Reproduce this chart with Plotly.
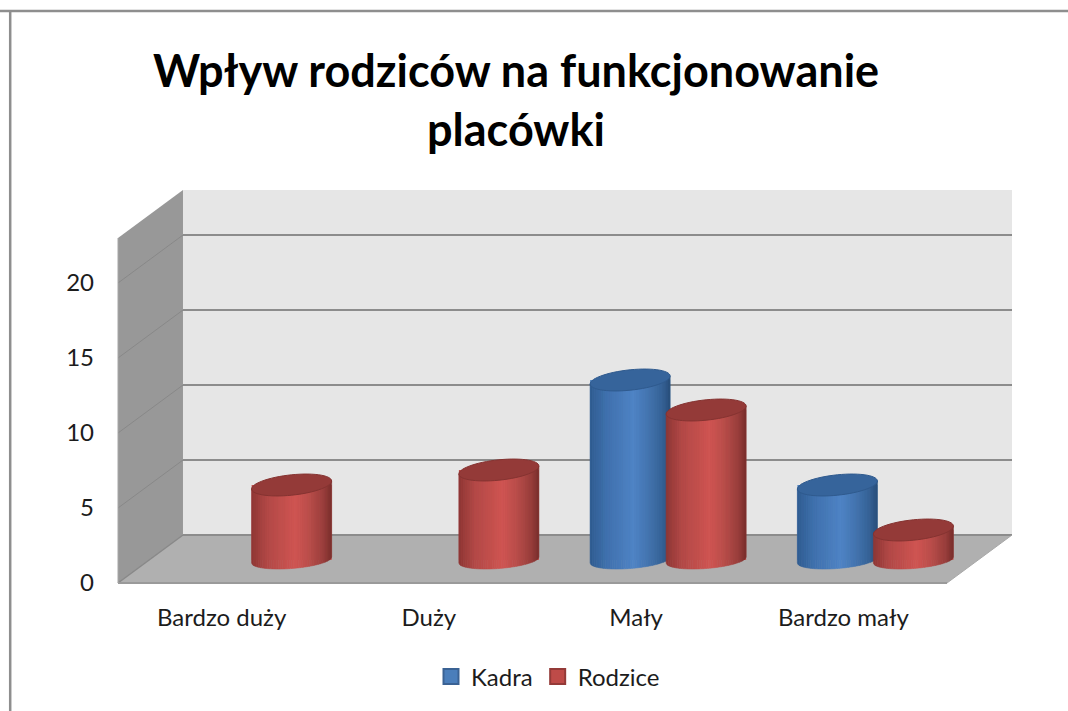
import math
import plotly.graph_objects as go

title_text = "Wpływ rodziców na funkcjonowanie<br>placówki"
categories = ["Bardzo duży", "Duży", "Mały", "Bardzo mały"]
kadra = [None, None, 12, 5]
rodzice = [5, 6, 10, 2]
value_ticks = [0, 5, 10, 15, 20]

W, H = 1068, 711
FONT = "Lato, Carlito, sans-serif"
PX_X = 207.25            # pixels per category
PX_Y = 15.0              # pixels per value unit
X0_PX, Y0_PX = 118, 583  # pixel of category edge / value 0 at front of the floor
xu = lambda px: px / PX_X
yu = lambda px: px / PX_Y
DX, DY = xu(65), yu(48)  # depth of the box
XL, XR = -0.5, 3.5
YTOP = 23.0
BASE = yu(23)            # cylinder base centre above value 0
A = xu(40)
TOP_B, TOP_K = yu(10.2), yu(4)
BOT_B, BOT_K = yu(8.5), yu(3)
STRIPS = 36


def path(points):
    return "M" + "L".join(f"{x:.4f},{y:.4f}" for x, y in points) + "Z"


def poly(points, fill, line=None, lw=0, layer="below"):
    return dict(type="path", xref="x", yref="y", path=path(points), fillcolor=fill,
                line=dict(color=line or fill, width=lw), layer=layer)


def seg(x0, y0, x1, y1, color, width):
    return dict(type="line", xref="x", yref="y", x0=x0, y0=y0, x1=x1, y1=y1,
                line=dict(color=color, width=width), layer="below")


def mix(c0, c1, t):
    return "#" + "".join(f"{round(a + (b - a) * t):02x}" for a, b in zip(c0, c1))


def shade(stops, t):
    for (t0, c0), (t1, c1) in zip(stops, stops[1:]):
        if t <= t1:
            return mix(c0, c1, (t - t0) / (t1 - t0))
    return mix(stops[-1][1], stops[-1][1], 0)


BLUE_STOPS = [(0, (0x2f, 0x5c, 0x90)), (0.2, (0x3f, 0x70, 0xac)), (0.55, (0x4f, 0x84, 0xc6)),
              (0.72, (0x44, 0x75, 0xb0)), (0.9, (0x36, 0x62, 0x96)), (1, (0x28, 0x4e, 0x7a))]
RED_STOPS = [(0, (0x8e, 0x36, 0x34)), (0.2, (0xb2, 0x49, 0x47)), (0.55, (0xd0, 0x55, 0x52)),
             (0.72, (0xba, 0x4e, 0x4b)), (0.9, (0x9a, 0x3e, 0x3c)), (1, (0x78, 0x2e, 0x2c))]


def cylinder(cx, value, stops, top_fill, top_line):
    shapes = []
    ytop = BASE + value
    for i in range(STRIPS):
        u0, u1 = -1 + 2 * i / STRIPS, -1 + 2 * (i + 1) / STRIPS
        pts = [(cx + A * u0, ytop + TOP_K * u0), (cx + A * u1, ytop + TOP_K * u1)]
        steps = 4
        for j in range(steps + 1):
            u = u1 + (u0 - u1) * j / steps
            pts.append((cx + A * u, BASE + BOT_K * u - BOT_B * math.sqrt(max(0, 1 - u * u))))
        col = shade(stops, (i + 0.5) / STRIPS)
        shapes.append(poly(pts, col, col, 0.6, "above"))
    ell = []
    for i in range(60):
        t = 2 * math.pi * i / 60
        ell.append((cx + A * math.cos(t), ytop + TOP_K * math.cos(t) + TOP_B * math.sin(t)))
    shapes.append(poly(ell, top_fill, top_line, 1, "above"))
    return shapes


shapes = []
# side wall, back wall, floor
shapes.append(poly([(XL, 0), (XL, YTOP), (XL + DX, YTOP + DY), (XL + DX, DY)], "#989898"))
shapes.append(poly([(XL + DX, DY), (XL + DX, YTOP + DY), (XR + DX, YTOP + DY), (XR + DX, DY)], "#e6e6e6"))
shapes.append(poly([(XL, 0), (XL + DX, DY), (XR + DX, DY), (XR, 0)], "#b0b0b0"))
# gridlines
for v in value_ticks:
    shapes.append(seg(XL, v, XL + DX, v + DY, "#888888", 1 if v else 1.5))
    shapes.append(seg(XL + DX, v + DY, XR + DX, v + DY, "#8c8c8c", 2))
shapes.append(seg(XL, 0, XR, 0, "#9a9a9a", 2))
shapes.append(seg(XR, 0, XR + DX, DY, "#a8a8a8", 1))
shapes.append(seg(XL, 0, XL, YTOP, "#a6a6a6", 1))

KADRA_OFF, RODZICE_OFF = xu(-6), xu(70)
for i in range(len(categories)):
    if kadra[i] is not None:
        shapes += cylinder(i + KADRA_OFF, kadra[i], BLUE_STOPS, "#36649b", "#2f5a8e")
    if rodzice[i] is not None:
        shapes += cylinder(i + RODZICE_OFF, rodzice[i], RED_STOPS, "#943a38", "#853331")

# picture frame
shapes.append(dict(type="line", xref="paper", yref="paper", x0=0, x1=1, y0=1 - 11 / H, y1=1 - 11 / H,
                   line=dict(color="#8e8e8e", width=2.5), layer="above"))
shapes.append(dict(type="line", xref="paper", yref="paper", x0=10.2 / W, x1=10.2 / W, y0=0, y1=1 - 10 / H,
                   line=dict(color="#8e8e8e", width=2.5), layer="above"))

fig = go.Figure()
x_idx = list(range(len(categories)))
fig.add_trace(go.Bar(name="Kadra", x=x_idx, y=kadra, base=BASE, width=2 * A, offset=KADRA_OFF - A,
                     marker=dict(color="#4f81bd", line=dict(width=0)), showlegend=False))
fig.add_trace(go.Bar(name="Rodzice", x=x_idx, y=rodzice, base=BASE, width=2 * A, offset=RODZICE_OFF - A,
                     marker=dict(color="#c0504d", line=dict(width=0)), showlegend=False))
# legend swatches
fig.add_trace(go.Scatter(name="Kadra", x=[None], y=[None], mode="markers",
                         marker=dict(symbol="square", size=15, color="#4a7ebb", line=dict(color="#3a6294", width=2))))
fig.add_trace(go.Scatter(name="Rodzice", x=[None], y=[None], mode="markers",
                         marker=dict(symbol="square", size=15, color="#be4b48", line=dict(color="#943a38", width=2))))

fig.update_layout(
    width=W, height=H, margin=dict(l=0, r=0, t=0, b=0, pad=0),
    paper_bgcolor="white", plot_bgcolor="white", barmode="overlay",
    font=dict(family=FONT, size=24, color="#1c1c1c"),
    title=dict(text=title_text, x=516 / W, xanchor="center", y=1 - 87 / H, yanchor="middle",
               font=dict(family=FONT, size=45, color="black", weight="bold")),
    xaxis=dict(range=[XL - xu(X0_PX), XL + xu(W - X0_PX)], domain=[0, 1], anchor="free",
               position=1 - Y0_PX / H, tickmode="array", tickvals=x_idx, ticktext=categories,
               showgrid=False, zeroline=False, showline=False, ticks="", ticklabelstandoff=18,
               fixedrange=True),
    yaxis=dict(range=[yu(Y0_PX - H), yu(Y0_PX)], domain=[0, 1], anchor="free",
               position=X0_PX / W, tickmode="array", tickvals=value_ticks,
               showgrid=False, zeroline=False, showline=False, ticks="", ticklabelstandoff=24,
               fixedrange=True),
    legend=dict(orientation="h", x=548 / W, xanchor="center", y=1 - 677 / H, yanchor="middle",
                font=dict(size=24), bgcolor="rgba(0,0,0,0)", itemwidth=30),
    shapes=shapes,
)

fig.write_html("out.html", post_script="document.body.style.margin='0';",
               config={"displayModeBar": False})
